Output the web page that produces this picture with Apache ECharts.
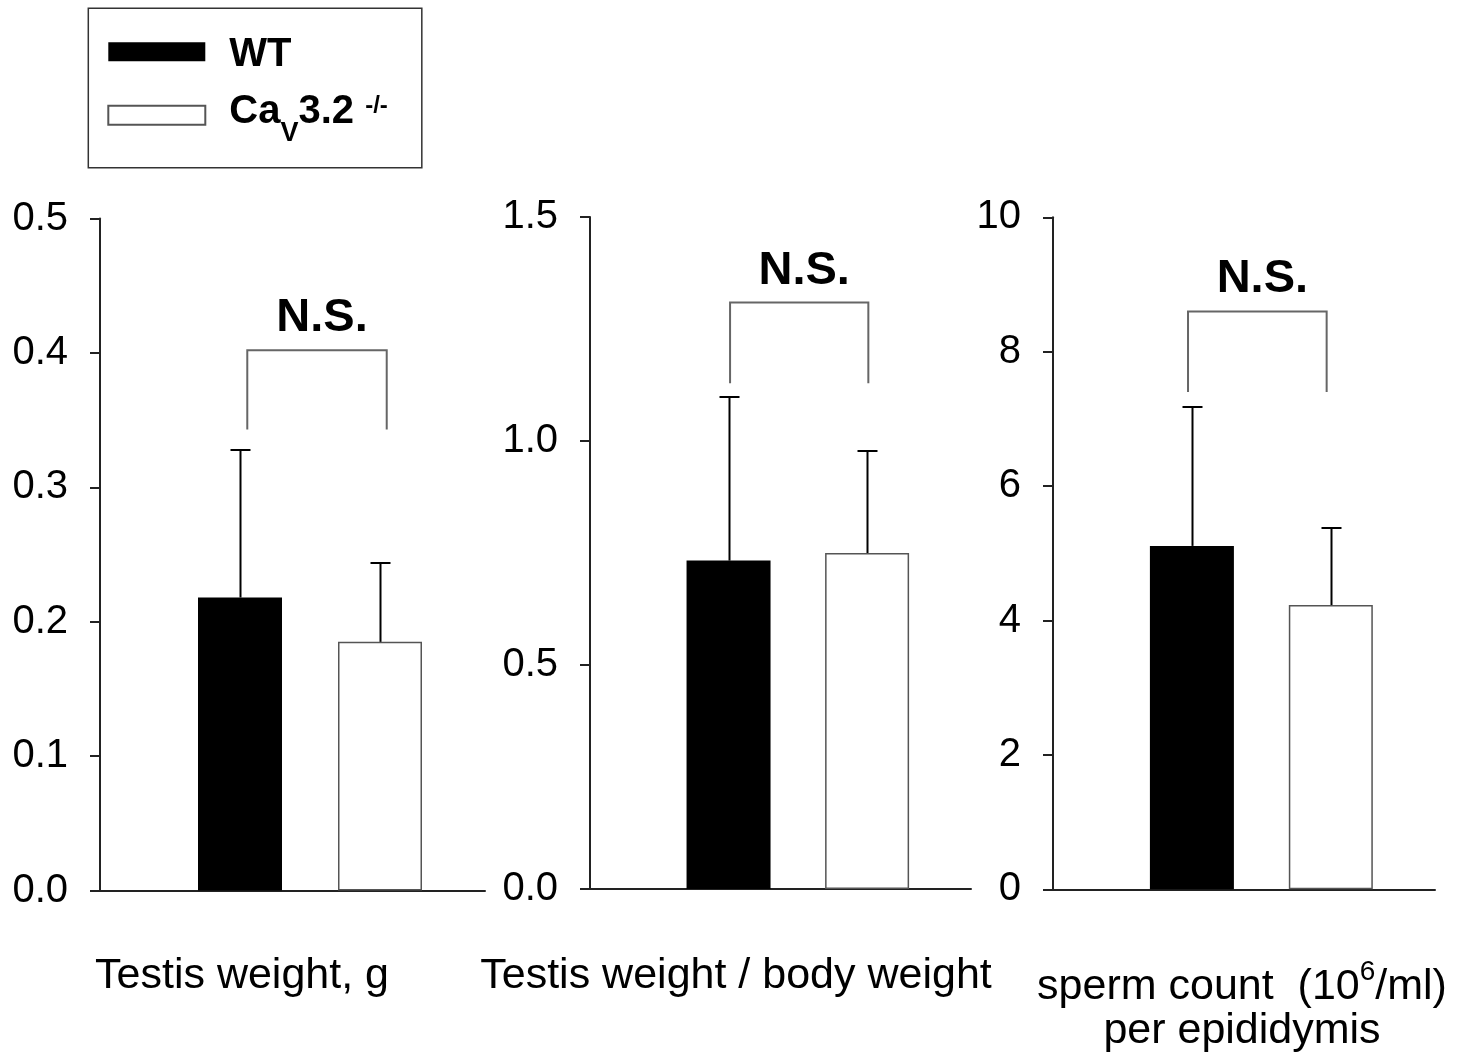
<!DOCTYPE html>
<html>
<head>
<meta charset="utf-8">
<script src="https://cdn.jsdelivr.net/npm/echarts@6/dist/echarts.min.js"></script>
<style>
  html, body { margin: 0; padding: 0; background: #fff; }
  #chart { width: 1468px; height: 1059px; }
</style>
</head>
<body>
<div id="chart"></div>
<script>
// ---------------- data ----------------
const groupNames = ['WT', 'CaV3.2'];
const groupX = [1, 2];
const wtMean = [0.218, 0.733, 5.11];
const wtSD = [0.110, 0.365, 2.06];
const koMean = [0.185, 0.750, 4.23];
const koSD = [0.059, 0.228, 1.14];
const yMin = [0, 0, 0];
const yMax = [0.5, 1.5, 10];
const yInterval = [0.1, 0.5, 2];
const yDecimals = [1, 1, 0];
const bracketTop = [0.402, 1.309, 8.6];
const bracketLeg = [0.343, 1.129, 7.40];
const bracketLeftX = [1.052, 1.011, 0.972];
const bracketRightX = [2.048, 2.009, 1.970];
const sigLabels = ['N.S.', 'N.S.', 'N.S.'];
const titleLine1 = ['Testis weight, g', 'Testis weight / body weight', 'sperm count  (10'];
const titleSup = ['', '', '6'];
const titleTail = ['', '', '/ml)'];
const titleLine2 = ['', '', 'per epididymis'];

// ---------------- layout / style ----------------
const FONT = '"Liberation Sans", Arial, Helvetica, sans-serif';
const gridLeft = [100, 590, 1053];
const gridWidth = [385, 381, 382];
const gridTop = [218.5, 217, 217.3];
const gridHeight = 672;
const xMax = 2.75;
const titleX = [242, 736, 1242];
const axisColor = '#222';

const chart = echarts.init(document.getElementById('chart'), null, { renderer: 'canvas' });

const grids = [], xAxes = [], yAxes = [], series = [];
for (let p = 0; p < 3; p++) {
  grids.push({ left: gridLeft[p], top: gridTop[p], width: gridWidth[p], height: gridHeight });
  xAxes.push({
    type: 'value', gridIndex: p, min: 0, max: xMax,
    axisLine: { show: true, lineStyle: { color: axisColor, width: 2 } },
    axisTick: { show: false }, axisLabel: { show: false }, splitLine: { show: false }
  });
  const dec = yDecimals[p];
  yAxes.push({
    type: 'value', gridIndex: p, min: yMin[p], max: yMax[p], interval: yInterval[p],
    axisLine: { show: true, lineStyle: { color: axisColor, width: 2 } },
    axisTick: { show: true, inside: false, length: 10, lineStyle: { color: axisColor, width: 2 } },
    axisLabel: {
      margin: 32, fontSize: 40, fontFamily: FONT, color: '#000',
      formatter: v => v.toFixed(dec)
    },
    splitLine: { show: false }
  });
  series.push({
    name: groupNames[0], type: 'bar', xAxisIndex: p, yAxisIndex: p,
    barWidth: 84, barGap: '-100%',
    itemStyle: { color: '#000' },
    data: [[groupX[0], wtMean[p]]], z: 2
  });
  series.push({
    name: groupNames[1], type: 'bar', xAxisIndex: p, yAxisIndex: p,
    barWidth: 84, barGap: '-100%',
    itemStyle: { color: '#fff', borderColor: '#555', borderWidth: 1.5 },
    data: [[groupX[1], koMean[p]]], z: 2
  });
  // error bars (upper only)
  series.push({
    type: 'custom', xAxisIndex: p, yAxisIndex: p, z: 3, silent: true,
    data: [[groupX[0], wtMean[p], wtMean[p] + wtSD[p]], [groupX[1], koMean[p], koMean[p] + koSD[p]]],
    renderItem: function (params, api) {
      const a = api.coord([api.value(0), api.value(1)]);
      const b = api.coord([api.value(0), api.value(2)]);
      const x = Math.round(a[0]) + 0.5;
      const yb = Math.round(b[1]);
      return {
        type: 'group',
        children: [
          { type: 'line', shape: { x1: x, y1: a[1], x2: x, y2: yb }, style: { stroke: '#000', lineWidth: 2 } },
          { type: 'line', shape: { x1: x - 10, y1: yb, x2: x + 10, y2: yb }, style: { stroke: '#000', lineWidth: 2 } }
        ]
      };
    }
  });
  // significance bracket + label
  series.push({
    type: 'custom', xAxisIndex: p, yAxisIndex: p, z: 4, silent: true,
    data: [[bracketLeftX[p], bracketRightX[p], bracketTop[p], bracketLeg[p]]],
    renderItem: function (params, api) {
      const x1 = api.value(0), x2 = api.value(1), top = api.value(2), leg = api.value(3);
      const p1 = api.coord([x1, leg]);
      const p2 = api.coord([x1, top]);
      const p3 = api.coord([x2, top]);
      const p4 = api.coord([x2, leg]);
      return {
        type: 'group',
        children: [
          { type: 'polyline', shape: { points: [p1, p2, p3, p4] }, style: { stroke: '#666', lineWidth: 2, fill: null } },
          { type: 'text', style: {
              text: sigLabels[p], x: (p2[0] + p3[0]) / 2 + 5, y: p2[1] - 32,
              align: 'center', verticalAlign: 'middle',
              fontSize: 47, fontWeight: 'bold', fontFamily: FONT, fill: '#000'
          } }
        ]
      };
    }
  });
}

const graphics = [];
for (let p = 0; p < 3; p++) {
  if (titleSup[p]) {
    graphics.push({
      type: 'text', x: titleX[p], y: 983.5,
      style: {
        text: '{m|' + titleLine1[p] + '}{s|' + titleSup[p] + '}{m|' + titleTail[p] + '}',
        align: 'center', verticalAlign: 'middle',
        rich: {
          m: { fontSize: 43, fontFamily: FONT, fill: '#000', lineHeight: 50, verticalAlign: 'bottom' },
          s: { fontSize: 28, fontFamily: FONT, fill: '#000', lineHeight: 34, verticalAlign: 'top' }
        }
      }
    });
  } else {
    graphics.push({
      type: 'text', x: titleX[p], y: 976.5,
      style: { text: titleLine1[p], align: 'center', verticalAlign: 'middle', fontSize: 43, fontFamily: FONT, fill: '#000' }
    });
  }
  if (titleLine2[p]) {
    graphics.push({
      type: 'text', x: titleX[p], y: 1031,
      style: { text: titleLine2[p], align: 'center', verticalAlign: 'middle', fontSize: 43, fontFamily: FONT, fill: '#000' }
    });
  }
}

const option = {
  backgroundColor: '#fff',
  animation: false,
  grid: grids,
  xAxis: xAxes,
  yAxis: yAxes,
  legend: {
    data: groupNames,
    orient: 'vertical',
    left: 88.3, top: 8.3,
    padding: [20, 34, 21, 19],
    itemGap: 8.5,
    itemWidth: 97, itemHeight: 19,
    icon: 'rect',
    selectedMode: false,
    borderColor: '#333', borderWidth: 1.5,
    formatter: function (name) {
      if (name === 'WT') return '{g|}{w|WT}';
      return '{g|}{b|Ca}{sub|V}{b|3.2 }{sup|-/-}';
    },
    textStyle: {
      rich: {
        g: { width: 19, lineHeight: 44, verticalAlign: 'middle' },
        w: { fontSize: 40, fontWeight: 'bold', fontFamily: FONT, color: '#000', lineHeight: 44, verticalAlign: 'middle', padding: [7, 0, 0, 0] },
        b: { fontSize: 40, fontWeight: 'bold', fontFamily: FONT, color: '#000', lineHeight: 44, verticalAlign: 'middle', padding: [0, 0, 6, 0] },
        sub: { fontSize: 27, fontWeight: 'bold', fontFamily: FONT, color: '#000', lineHeight: 44, verticalAlign: 'middle', padding: [36, 0, 0, 0] },
        sup: { fontSize: 24, fontWeight: 'bold', fontFamily: FONT, color: '#000', lineHeight: 44, verticalAlign: 'middle', padding: [0, 0, 18, 0] }
      }
    }
  },
  graphic: graphics,
  series: series
};
chart.setOption(option);
</script>
</body>
</html>
